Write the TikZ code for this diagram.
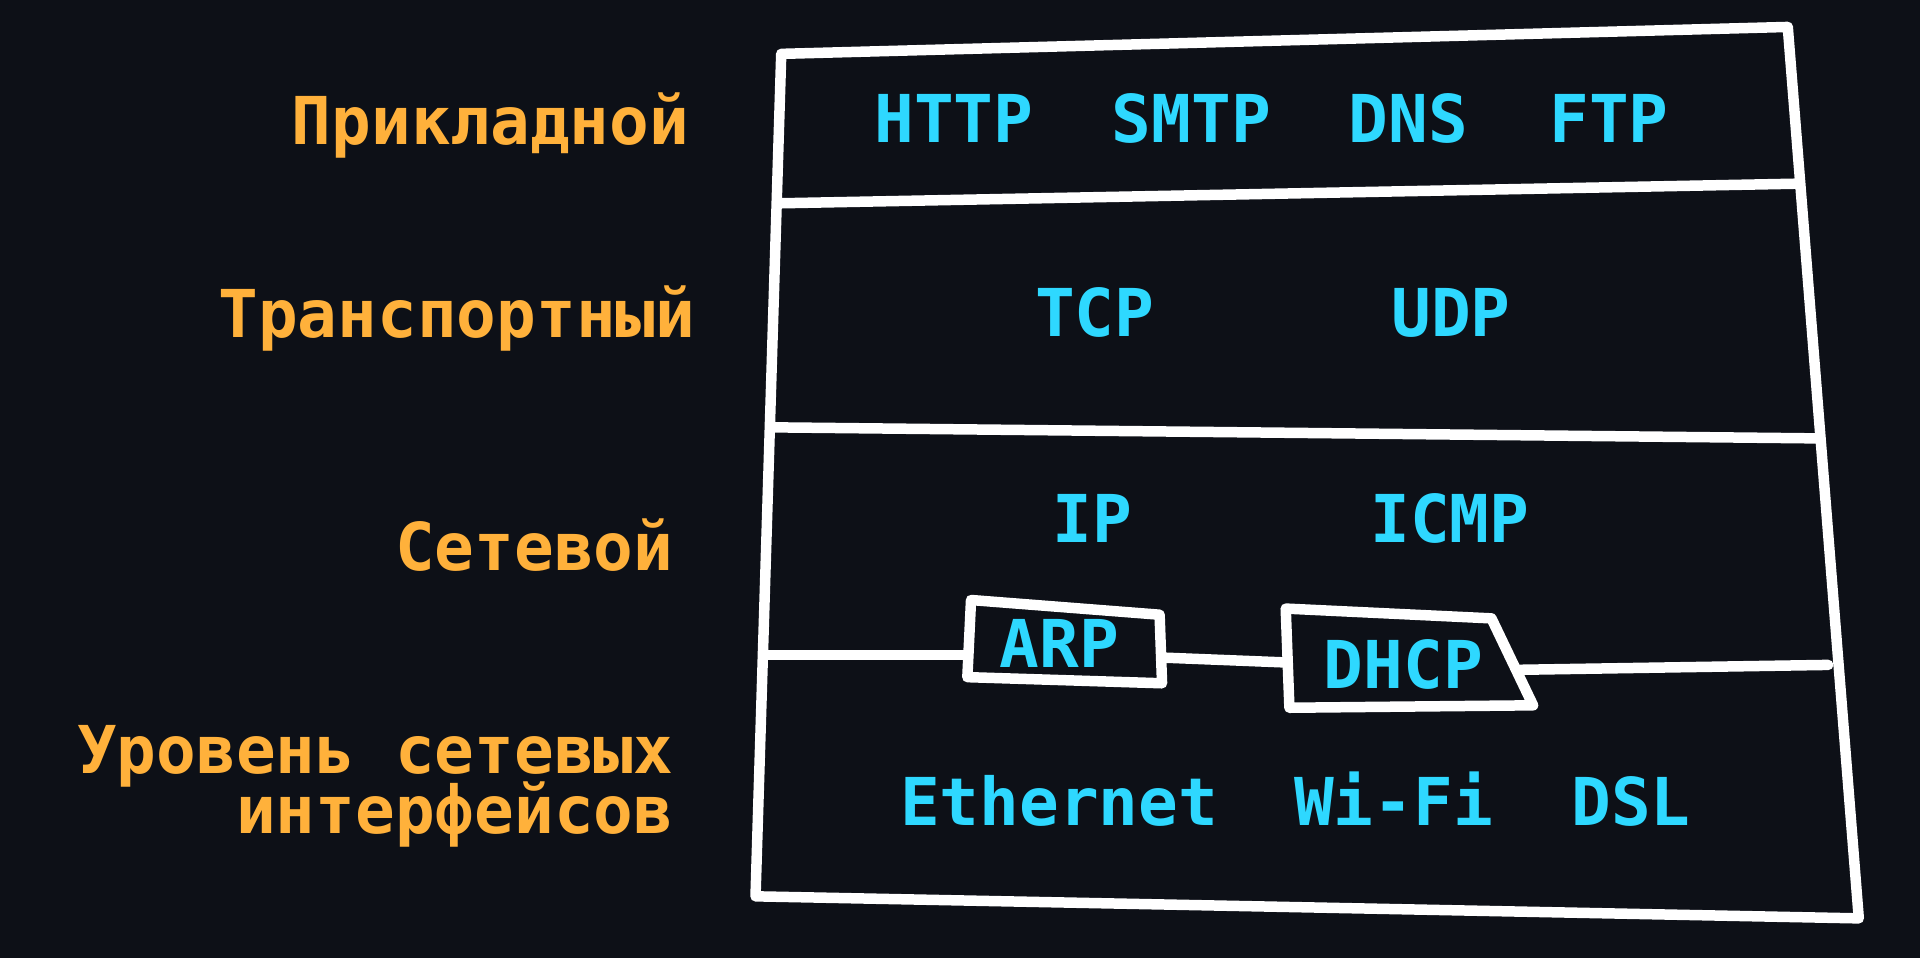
\documentclass[tikz,border=0pt]{standalone}
\usepackage{fontspec}
\newfontfamily\monobold{DejaVu Sans Mono}[BoldFont={DejaVu Sans Mono Bold}]
\definecolor{bg}{HTML}{0D1017}
\definecolor{layer}{HTML}{FFB13B}
\definecolor{proto}{HTML}{2ED8FF}
\tikzset{
  frame/.style={draw=white, line width=10.5pt, line join=round, line cap=round},
  layername/.style={text=layer, anchor=base east, inner sep=0pt, font=\monobold\bfseries\fontsize{66}{76}\selectfont},
  protoname/.style={text=proto, anchor=base, inner sep=0pt, font=\monobold\bfseries\fontsize{66}{76}\selectfont},
}
\begin{document}
\begin{tikzpicture}[x=1.22449pt,y=-1.22449pt]
\fill[bg] (0,0) rectangle (1568,782);
\useasboundingbox (0,0) rectangle (1568,782);
% outer frame
\coordinate (tl) at (638,44);
\coordinate (tr) at (1460,22);
\coordinate (br) at (1518,750);
\coordinate (bl) at (617,732);
\draw[frame] (tl) -- (tr) -- (br) -- (bl) -- cycle;
% separators
\coordinate (s1l) at (638,166); \coordinate (s1r) at (1468,150);
\coordinate (s2l) at (632,349); \coordinate (s2r) at (1483,358);
\draw[frame] (s1l) -- (s1r);
\draw[frame] (s2l) -- (s2r);
% ARP and DHCP boxes
\coordinate (a1) at (793,490); \coordinate (a2) at (947,502);
\coordinate (a3) at (949,558); \coordinate (a4) at (790,553);
\draw[frame] (a1) -- (a2) -- (a3) -- (a4) -- cycle;
\coordinate (d1) at (1050,497); \coordinate (d2) at (1218,505);
\coordinate (d3) at (1252,576); \coordinate (d4) at (1053,578);
\draw[frame] (d1) -- (d2) -- (d3) -- (d4) -- cycle;
\coordinate (s3l) at (627,535); \coordinate (s3a) at (790,535);
\coordinate (s3b) at (949,537); \coordinate (s3c) at (1050,541);
\coordinate (s3d) at (1241,547); \coordinate (s3r) at (1493,543);
\draw[frame] (s3l) -- (s3a);
\draw[frame] (s3b) -- (s3c);
\draw[frame] (s3d) -- (s3r);
% layer names
\node[layername] (l1) at (563,118) {Прикладной};
\node[layername] (l2) at (568,276) {Транспортный};
\node[layername] (l3) at (550,466) {Сетевой};
\node[layername] (l4a) at (550,632) {Уровень сетевых};
\node[layername] (l4b) at (550,681) {интерфейсов};
% protocols
\node[protoname] (http) at (779,116) {HTTP};
\node[protoname] (smtp) at (973,116) {SMTP};
\node[protoname] (dns) at (1150,116) {DNS};
\node[protoname] (ftp) at (1314,116) {FTP};
\node[protoname] (tcp) at (894,275) {TCP};
\node[protoname] (udp) at (1185,275) {UDP};
\node[protoname] (ip) at (892,443) {IP};
\node[protoname] (icmp) at (1184,443) {ICMP};
\node[protoname] (arp) at (865,545) {ARP};
\node[protoname] (dhcp) at (1146,562) {DHCP};
\node[protoname] (eth) at (865,674) {Ethernet};
\node[protoname] (wifi) at (1138,674) {Wi-Fi};
\node[protoname] (dsl) at (1332,674) {DSL};
\end{tikzpicture}
\end{document}
